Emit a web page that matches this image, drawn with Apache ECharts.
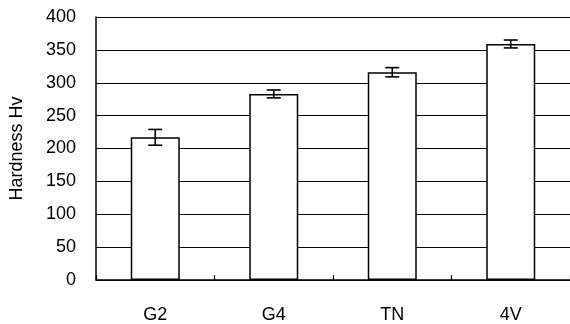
<!DOCTYPE html>
<html>
<head>
<meta charset="utf-8">
<script src="https://cdn.jsdelivr.net/npm/echarts@6/dist/echarts.min.js"></script>
<style>
html,body{margin:0;padding:0;background:#fff;}
#chart{width:570px;height:324px;}
</style>
</head>
<body>
<div id="chart"></div>
<script>
const categories = ['G2', 'G4', 'TN', '4V'];
const hardness = [217, 283, 316, 359];
const errors = [12, 6, 7, 6];
const yTicks = [0, 50, 100, 150, 200, 250, 300, 350, 400];

const chart = echarts.init(document.getElementById('chart'), null, {renderer: 'canvas'});
const font = 'Liberation Sans, Arial, sans-serif';

const errData = categories.map((c, i) => [i, hardness[i] - errors[i], hardness[i] + errors[i]]);

chart.setOption({
  animation: false,
  backgroundColor: '#fff',
  grid: {left: 95, top: 17, width: 480, bottom: 43, containLabel: false},
  xAxis: {
    type: 'category',
    data: categories,
    boundaryGap: true,
    axisLine: {show: true, lineStyle: {color: '#000', width: 1.5}},
    axisTick: {show: true, inside: true, length: 5, lineStyle: {color: '#000', width: 1.2}},
    axisLabel: {color: '#000', fontFamily: font, fontSize: 18, margin: 26},
    splitLine: {show: false}
  },
  yAxis: {
    type: 'value',
    min: yTicks[0],
    max: yTicks[yTicks.length - 1],
    interval: 50,
    name: 'Hardness Hv',
    nameLocation: 'middle',
    nameGap: 70,
    nameTextStyle: {color: '#000', fontFamily: font, fontSize: 18},
    axisLine: {show: true, lineStyle: {color: '#000', width: 1.5}},
    axisTick: {show: false},
    axisLabel: {color: '#000', fontFamily: font, fontSize: 18, margin: 20},
    splitLine: {show: true, lineStyle: {color: '#000', width: 1.2}}
  },
  series: [
    {
      type: 'bar',
      data: hardness,
      barWidth: 49,
      itemStyle: {color: '#fff', borderColor: '#000', borderWidth: 1.5},
      z: 3
    },
    {
      type: 'custom',
      data: errData,
      z: 5,
      renderItem: function (params, api) {
        const x = api.value(0);
        const lo = api.coord([x, api.value(1)]);
        const hi = api.coord([x, api.value(2)]);
        const half = 7;
        const style = {stroke: '#000', lineWidth: 1.6};
        return {
          type: 'group',
          children: [
            {type: 'line', shape: {x1: lo[0], y1: lo[1], x2: hi[0], y2: hi[1]}, style: style},
            {type: 'line', shape: {x1: lo[0] - half, y1: lo[1], x2: lo[0] + half, y2: lo[1]}, style: style},
            {type: 'line', shape: {x1: hi[0] - half, y1: hi[1], x2: hi[0] + half, y2: hi[1]}, style: style}
          ]
        };
      }
    }
  ]
});
</script>
</body>
</html>
